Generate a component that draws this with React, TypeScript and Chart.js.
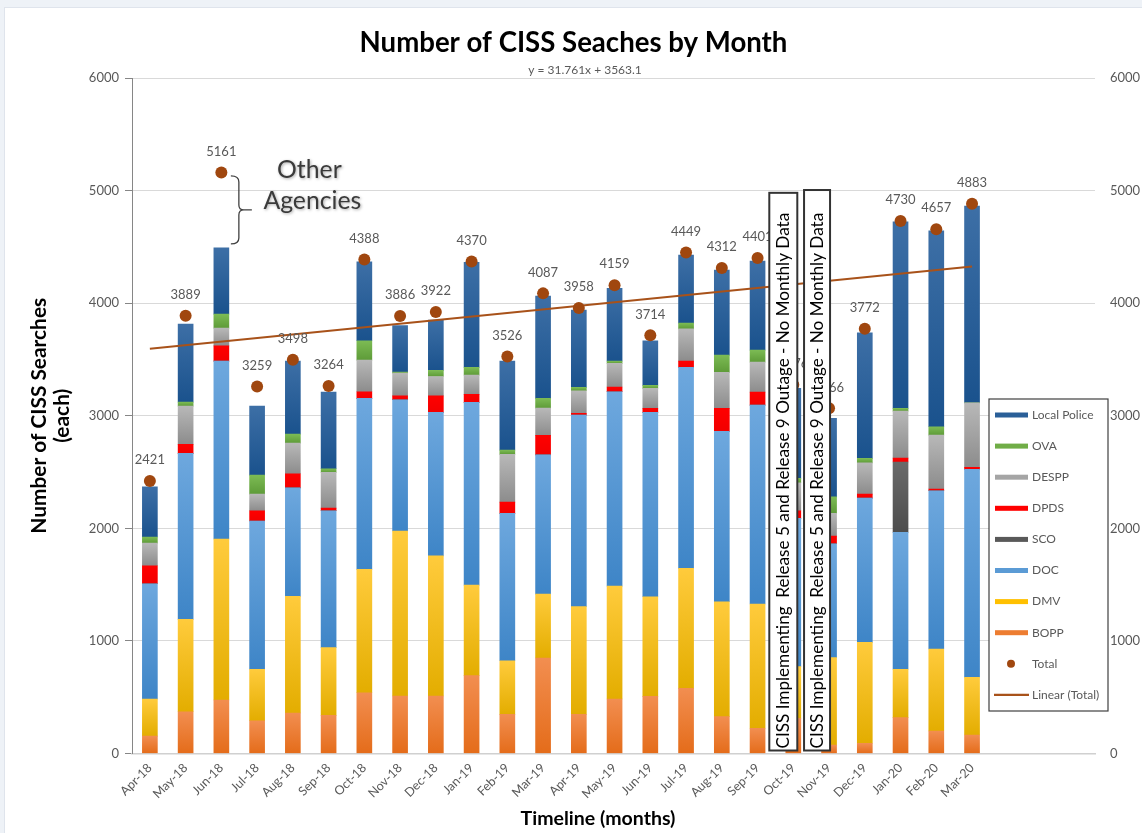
import React, { useEffect, useRef } from 'react';
import { Chart, registerables } from 'chart.js';
Chart.register(...registerables);

const FONT = 'Lato, "Open Sans", "DejaVu Sans", sans-serif';

const MONTHS = ['Apr-18', 'May-18', 'Jun-18', 'Jul-18', 'Aug-18', 'Sep-18', 'Oct-18', 'Nov-18', 'Dec-18', 'Jan-19', 'Feb-19', 'Mar-19', 'Apr-19', 'May-19', 'Jun-19', 'Jul-19', 'Aug-19', 'Sep-19', 'Oct-19', 'Nov-19', 'Dec-19', 'Jan-20', 'Feb-20', 'Mar-20'];

const BOPP = [155, 371, 475, 291, 360, 339, 540, 511, 511, 691, 348, 848, 348, 484, 508, 579, 327, 224, 313, 75, 91, 318, 200, 164];
const DMV = [329, 821, 1430, 457, 1036, 601, 1096, 1465, 1245, 805, 476, 568, 956, 1003, 884, 1066, 1021, 1104, 458, 776, 896, 430, 728, 513];
const DOC = [1024, 1474, 1580, 1317, 964, 1216, 1518, 1166, 1274, 1623, 1309, 1237, 1702, 1726, 1638, 1784, 1513, 1767, 1318, 1012, 1282, 1216, 1406, 1847];
const SCO = [0, 0, 0, 0, 0, 0, 0, 0, 0, 0, 0, 0, 0, 0, 0, 0, 0, 0, 0, 0, 0, 625, 0, 0];
const DPDS = [160, 80, 136, 91, 125, 24, 59, 35, 147, 71, 100, 173, 15, 42, 35, 56, 204, 115, 67, 68, 35, 35, 15, 17];
const DESPP = [201, 340, 157, 148, 272, 317, 281, 202, 172, 171, 424, 242, 201, 210, 178, 287, 320, 267, 249, 202, 278, 417, 479, 574];
const OVA = [54, 35, 125, 169, 80, 32, 172, 9, 54, 68, 38, 86, 30, 20, 27, 51, 154, 106, 39, 147, 39, 24, 74, 0];
const LOCAL_POLICE = [446, 693, 588, 613, 648, 681, 701, 414, 446, 933, 790, 909, 686, 646, 396, 604, 754, 790, 799, 697, 1116, 1657, 1741, 1747];
const TOTAL = [2421, 3889, 5161, 3259, 3498, 3264, 4388, 3886, 3922, 4370, 3526, 4087, 3958, 4159, 3714, 4449, 4312, 4401, 3276, 3066, 3772, 4730, 4657, 4883];

// Trendline as printed on the chart: y = 31.761x + 3563.1
const TREND_SLOPE = 31.761;
const TREND_INTERCEPT = 3563.1;

const Y_TICKS = [0, 1000, 2000, 3000, 4000, 5000, 6000];

const SERIES = [BOPP, DMV, DOC, SCO, DPDS, DESPP, OVA, LOCAL_POLICE];
const NAMES = ['BOPP', 'DMV', 'DOC', 'SCO', 'DPDS', 'DESPP', 'OVA', 'Local Police'];
const COLOR_TOP = ['#f28e50', '#ffcb3c', '#6ea8de', '#6a6a6a', '#ff0000', '#b8b8b8', '#7cbb54', '#3d6fa6'];
const COLOR_BOTTOM = ['#e46c1a', '#e3ad00', '#3e85c7', '#4d4d4d', '#f20000', '#8c8c8c', '#5e9b38', '#1a528d'];
const COLOR_BASE = ['#ed7d31', '#ffc000', '#5b9bd5', '#595959', '#ff0000', '#a5a5a5', '#70ad47', '#2a5f98'];
const TOTAL_COLOR = '#a0470f';
const TREND_COLOR = '#a8521a';

const CHART_TITLE = 'Number of CISS Seaches by Month';
const Y_TITLE = ['Number of CISS Searches', '(each)'];
const X_TITLE = 'Timeline (months)';
const OUTAGE_TEXT = 'CISS Implementing  Release 5 and Release 9 Outage - No Monthly Data';
const OUTAGE_MONTHS = ['Oct-19', 'Nov-19'];

function measureSize(text: string, target: number, weight: string, base = 20) {
  const c = document.createElement('canvas').getContext('2d')!;
  c.font = `${weight} ${base}px ${FONT}`;
  const w = c.measureText(text).width;
  return (base * target) / w;
}

export default function App() {
  const ref = useRef<HTMLCanvasElement>(null);

  useEffect(() => {
    const canvas = ref.current!;
    const pts = (arr: number[]) => arr.map((v, i) => ({ x: i + 1, y: v }));

    const titleSize = measureSize(CHART_TITLE, 428, 'bold');
    const yTitleSize = measureSize(Y_TITLE[0], 236, 'bold');
    const xTitleSize = measureSize(X_TITLE, 155, 'bold');
    const otherSize = measureSize('Agencies', 98, 'normal');
    const boxTextSize = measureSize(OUTAGE_TEXT, 536, 'normal');

    const gradientFor = (k: number) => (ctx: any) => {
      if (ctx.type !== 'data') return COLOR_BASE[k];
      const chart = ctx.chart;
      const ys = chart.scales && chart.scales.y;
      if (!ys) return COLOR_BASE[k];
      const i = ctx.dataIndex;
      let lo = 0;
      for (let j = 0; j < k; j++) lo += SERIES[j][i];
      const hi = lo + SERIES[k][i];
      const y1 = ys.getPixelForValue(hi);
      const y0 = ys.getPixelForValue(lo);
      if (!isFinite(y1) || !isFinite(y0) || y0 - y1 < 1) return COLOR_BASE[k];
      const g = chart.ctx.createLinearGradient(0, y1, 0, y0);
      g.addColorStop(0, COLOR_TOP[k]);
      g.addColorStop(1, COLOR_BOTTOM[k]);
      return g;
    };

    const barSets = SERIES.map((s, k) => ({
      type: 'bar' as const,
      label: NAMES[k],
      data: pts(s),
      xAxisID: 'x',
      yAxisID: 'y',
      stack: 'agencies',
      order: 3,
      backgroundColor: gradientFor(k),
      borderWidth: 0,
      barThickness: 15,
    }));
    const TOTAL_IDX = barSets.length;
    const trendData = [1, MONTHS.length].map((x) => ({ x, y: TREND_INTERCEPT + TREND_SLOPE * x }));

    const datasets: any[] = [
      ...barSets,
      {
        type: 'line',
        label: 'Total',
        data: pts(TOTAL),
        xAxisID: 'x',
        yAxisID: 'yR',
        showLine: false,
        pointRadius: 6,
        pointBackgroundColor: TOTAL_COLOR,
        pointBorderWidth: 0,
        order: 1,
      },
      {
        type: 'line',
        label: 'Linear (Total)',
        data: trendData,
        xAxisID: 'x',
        yAxisID: 'yR',
        borderColor: TREND_COLOR,
        borderWidth: 2,
        pointRadius: 0,
        tension: 0,
        order: 2,
      },
    ];

    const annot = {
      id: 'annot',
      afterDatasetsDraw(chart: any) {
        const ctx = chart.ctx;
        const area = chart.chartArea;
        const xs = chart.scales.x;
        const ys = chart.scales.y;
        const meta = chart.getDatasetMeta(TOTAL_IDX);
        ctx.save();
        // total labels
        ctx.font = `13px ${FONT}`;
        ctx.fillStyle = '#595959';
        ctx.textAlign = 'center';
        ctx.textBaseline = 'middle';
        meta.data.forEach((p: any, i: number) => {
          ctx.fillText(String(TOTAL[i]), p.x, p.y - 21);
        });
        // trend equation
        ctx.font = `12px ${FONT}`;
        ctx.fillText(`y = ${TREND_SLOPE}x + ${TREND_INTERCEPT}`, area.left + 453, area.top - 8);

        // brace for "Other Agencies" at peak month
        const peak = TOTAL.indexOf(Math.max(...TOTAL));
        let stackTop = 0;
        SERIES.forEach((s) => (stackTop += s[peak]));
        const px = xs.getPixelForValue(peak + 1);
        const bx = px + 17.5;
        const yTop = meta.data[peak].y + 3.5;
        const yBot = ys.getPixelForValue(stackTop) - 4;
        const yMid = (yTop + yBot) / 2;
        ctx.strokeStyle = '#404040';
        ctx.lineWidth = 1.3;
        ctx.beginPath();
        ctx.moveTo(bx - 8, yTop);
        ctx.quadraticCurveTo(bx, yTop, bx, yTop + 6);
        ctx.lineTo(bx, yMid - 5);
        ctx.quadraticCurveTo(bx, yMid, bx + 5, yMid);
        ctx.lineTo(bx + 13, yMid);
        ctx.moveTo(bx + 5, yMid);
        ctx.quadraticCurveTo(bx, yMid, bx, yMid + 5);
        ctx.lineTo(bx, yBot - 6);
        ctx.quadraticCurveTo(bx, yBot, bx - 8, yBot);
        ctx.stroke();

        ctx.font = `${otherSize}px ${FONT}`;
        ctx.fillStyle = '#3a3a3a';
        ctx.shadowColor = 'rgba(0,0,0,0.35)';
        ctx.shadowBlur = 3;
        ctx.shadowOffsetX = 1;
        ctx.shadowOffsetY = 1;
        ctx.fillText('Other', bx + 70.5, yTop - 5.5);
        ctx.fillText('Agencies', bx + 73.5, yTop + 25.5);
        ctx.restore();
      },
      afterDraw(chart: any) {
        const ctx = chart.ctx;
        const area = chart.chartArea;
        const xs = chart.scales.x;
        const ys = chart.scales.y;
        ctx.save();

        // x axis title
        ctx.font = `bold ${xTitleSize}px ${FONT}`;
        ctx.fillStyle = '#000';
        ctx.textAlign = 'center';
        ctx.textBaseline = 'middle';
        ctx.fillText(X_TITLE, area.left + 466, area.bottom + 65);

        // outage text boxes
        const boxes = [
          { m: OUTAGE_MONTHS[0], l: -24, r: 4, top: 4980 },
          { m: OUTAGE_MONTHS[1], l: -25, r: 1, top: 5005 },
        ];
        boxes.forEach((b) => {
          const cx = xs.getPixelForValue(MONTHS.indexOf(b.m) + 1);
          const x0 = cx + b.l;
          const x1 = cx + b.r;
          const y0 = ys.getPixelForValue(b.top);
          const y1 = area.bottom - 3;
          ctx.fillStyle = '#ffffff';
          ctx.fillRect(x0, y0, x1 - x0, y1 - y0);
          ctx.strokeStyle = '#333333';
          ctx.lineWidth = 2;
          ctx.strokeRect(x0, y0, x1 - x0, y1 - y0);
          ctx.save();
          ctx.translate((x0 + x1) / 2, y1 - 2);
          ctx.rotate(-Math.PI / 2);
          ctx.font = `${boxTextSize}px ${FONT}`;
          ctx.fillStyle = '#000';
          ctx.textAlign = 'left';
          ctx.textBaseline = 'middle';
          ctx.fillText(OUTAGE_TEXT, 0, 0);
          ctx.restore();
        });

        // legend
        const lx = area.right - 106;
        const ly = area.top + 321;
        const lw = 119;
        const lh = 312;
        ctx.fillStyle = '#ffffff';
        ctx.fillRect(lx, ly, lw, lh);
        ctx.strokeStyle = '#404040';
        ctx.lineWidth = 1.2;
        ctx.strokeRect(lx, ly, lw, lh);
        const items: any[] = [];
        for (let k = SERIES.length - 1; k >= 0; k--) items.push({ label: NAMES[k], kind: 'rect', color: COLOR_BASE[k] });
        items.push({ label: 'Total', kind: 'dot', color: TOTAL_COLOR });
        items.push({ label: 'Linear (Total)', kind: 'line', color: TREND_COLOR });
        ctx.font = `12px ${FONT}`;
        ctx.textAlign = 'left';
        ctx.textBaseline = 'middle';
        items.forEach((it, i) => {
          const y = ly + 16 + i * 31.1;
          if (it.kind === 'rect') {
            ctx.fillStyle = it.color;
            ctx.fillRect(lx + 6, y - 2.5, 33, 5);
          } else if (it.kind === 'dot') {
            ctx.fillStyle = it.color;
            ctx.beginPath();
            ctx.arc(lx + 22, y, 4, 0, Math.PI * 2);
            ctx.fill();
          } else {
            ctx.strokeStyle = it.color;
            ctx.lineWidth = 2.2;
            ctx.beginPath();
            ctx.moveTo(lx + 5, y);
            ctx.lineTo(lx + 40, y);
            ctx.stroke();
          }
          ctx.fillStyle = '#595959';
          ctx.fillText(it.label, lx + 43, y);
        });
        ctx.restore();
      },
    };

    const tickFont = { family: FONT, size: 13 };
    const plainTick = (v: any) => String(v);
    const chart = new Chart(canvas, {
      type: 'bar',
      data: { datasets },
      options: {
        animation: false,
        responsive: false,
        devicePixelRatio: 1,
        events: [],
        layout: { padding: 0 },
        plugins: {
          legend: { display: false },
          tooltip: { enabled: false },
          title: {
            display: true,
            text: CHART_TITLE,
            color: '#000',
            font: { family: FONT, size: titleSize, weight: 'bold', lineHeight: 1.2 },
            padding: { top: 19, bottom: 70 - 19 - titleSize * 1.2 },
          },
        },
        scales: {
          x: {
            type: 'linear',
            min: 0.5,
            max: 27.44,
            stacked: true,
            offset: false,
            grid: { display: false, drawTicks: false },
            border: { display: true, color: '#d0d0d0', width: 1.5 },
            ticks: {
              stepSize: 1,
              maxTicksLimit: 60,
              autoSkip: false,
              includeBounds: false,
              minRotation: 45,
              maxRotation: 45,
              padding: 7,
              color: '#595959',
              font: { family: FONT, size: 12.5 },
              callback: (v: any) => {
                const n = Number(v);
                return Number.isInteger(n) && n >= 1 && n <= MONTHS.length ? MONTHS[n - 1] : '';
              },
            },
            afterFit: (s: any) => {
              s.height = 79.5;
            },
          },
          y: {
            type: 'linear',
            position: 'left',
            stacked: true,
            min: Y_TICKS[0],
            max: Y_TICKS[Y_TICKS.length - 1],
            ticks: { stepSize: 1000, color: '#595959', font: tickFont, padding: 6, callback: plainTick },
            grid: { color: '#d9d9d9', tickColor: '#868686', tickLength: 7 },
            border: { color: '#868686', width: 1 },
            title: {
              display: true,
              text: Y_TITLE,
              color: '#000',
              font: { family: FONT, size: yTitleSize, weight: 'bold', lineHeight: 1.1 },
              padding: { top: 34 - (yTitleSize * 1.1) / 2, bottom: 0 },
            },
            afterFit: (s: any) => {
              s.width = 127;
            },
          },
          yR: {
            type: 'linear',
            position: 'right',
            min: Y_TICKS[0],
            max: Y_TICKS[Y_TICKS.length - 1],
            ticks: { stepSize: 1000, color: '#595959', font: tickFont, padding: 15, callback: plainTick },
            grid: { display: false, drawTicks: false },
            border: { display: false },
            afterFit: (s: any) => {
              s.width = 47;
            },
          },
        },
      } as any,
      plugins: [annot],
    });
    return () => chart.destroy();
  }, []);

  return (
    <>
      <style>{`body{margin:0;background:#eef2f7;}`}</style>
      <div style={{ position: 'absolute', left: 4, top: 7, width: 1138, height: 826, background: '#ffffff', borderTop: '1px solid #dfe4ec', borderLeft: '1px solid #dfe4ec', boxSizing: 'border-box' }}>
        <canvas ref={ref} width={1137} height={825} style={{ display: 'block' }} />
      </div>
    </>
  );
}
